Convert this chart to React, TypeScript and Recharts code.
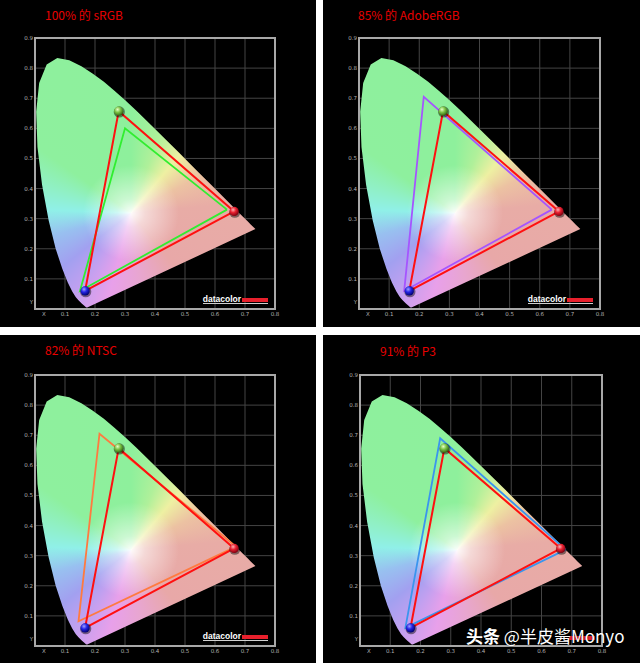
import React from 'react';
import { ScatterChart, Scatter, XAxis, YAxis, CartesianGrid, ReferenceArea } from 'recharts';

// CIE 1931 spectral locus (x, y)
const spectralLocus = [
  { x: 0.1741, y: 0.005 }, { x: 0.1738, y: 0.0049 }, { x: 0.1733, y: 0.0048 }, { x: 0.1726, y: 0.0048 },
  { x: 0.1714, y: 0.0051 }, { x: 0.1689, y: 0.0069 }, { x: 0.1644, y: 0.0109 }, { x: 0.1566, y: 0.0177 },
  { x: 0.144, y: 0.0297 }, { x: 0.1355, y: 0.0399 }, { x: 0.1241, y: 0.0578 }, { x: 0.1096, y: 0.0868 },
  { x: 0.0913, y: 0.1327 }, { x: 0.0687, y: 0.2007 }, { x: 0.0454, y: 0.295 }, { x: 0.0235, y: 0.4127 },
  { x: 0.0082, y: 0.5384 }, { x: 0.0039, y: 0.6548 }, { x: 0.0139, y: 0.7502 }, { x: 0.0389, y: 0.812 },
  { x: 0.0743, y: 0.8338 }, { x: 0.1142, y: 0.8262 }, { x: 0.1547, y: 0.8059 }, { x: 0.1929, y: 0.7816 },
  { x: 0.2296, y: 0.7543 }, { x: 0.2658, y: 0.7243 }, { x: 0.3016, y: 0.6923 }, { x: 0.3373, y: 0.6589 },
  { x: 0.3731, y: 0.6245 }, { x: 0.4087, y: 0.5896 }, { x: 0.4441, y: 0.5547 }, { x: 0.4788, y: 0.5202 },
  { x: 0.5125, y: 0.4866 }, { x: 0.5448, y: 0.4544 }, { x: 0.5752, y: 0.4242 }, { x: 0.6029, y: 0.3965 },
  { x: 0.627, y: 0.3725 }, { x: 0.6658, y: 0.334 }, { x: 0.6915, y: 0.3083 }, { x: 0.7079, y: 0.292 },
  { x: 0.719, y: 0.2809 }, { x: 0.7347, y: 0.2653 },
];

const glowCenter = [{ x: 0.32, y: 0.32 }];

// measured display primaries
const displayRed = [{ x: 0.664, y: 0.324 }];
const displayGreen = [{ x: 0.279, y: 0.657 }];
const displayBlue = [{ x: 0.167, y: 0.06 }];
const displayTriangle = [displayRed[0], displayGreen[0], displayBlue[0], displayRed[0]];

// reference gamuts
const srgbTriangle = [{ x: 0.64, y: 0.33 }, { x: 0.3, y: 0.6 }, { x: 0.15, y: 0.06 }, { x: 0.64, y: 0.33 }];
const adobeTriangle = [{ x: 0.64, y: 0.33 }, { x: 0.215, y: 0.705 }, { x: 0.15, y: 0.06 }, { x: 0.64, y: 0.33 }];
const ntscTriangle = [{ x: 0.67, y: 0.33 }, { x: 0.215, y: 0.705 }, { x: 0.145, y: 0.082 }, { x: 0.67, y: 0.33 }];
const p3Triangle = [{ x: 0.68, y: 0.32 }, { x: 0.265, y: 0.69 }, { x: 0.15, y: 0.06 }, { x: 0.68, y: 0.32 }];

const titles = ['100% 的 sRGB', '85% 的 AdobeRGB', '82% 的 NTSC', '91% 的 P3'];
const xTicks = [0, 0.1, 0.2, 0.3, 0.4, 0.5, 0.6, 0.7, 0.8];
const yTicks = [0, 0.1, 0.2, 0.3, 0.4, 0.5, 0.6, 0.7, 0.8, 0.9];

const panels = [
  { left: 0, top: 0, w: 316, h: 327, pl: 35, pt: 38, pr: 275, pb: 309, tx: 45, ty: 8, ref: srgbTriangle, refColor: '#30ee30', logoText: true },
  { left: 323, top: 0, w: 317, h: 327, pl: 36, pt: 38, pr: 277, pb: 309, tx: 35, ty: 8, ref: adobeTriangle, refColor: '#a555ff', logoText: true },
  { left: 0, top: 335, w: 316, h: 328, pl: 35, pt: 40, pr: 275, pb: 311, tx: 45, ty: 8, ref: ntscTriangle, refColor: '#ff7a40', logoText: true },
  { left: 323, top: 335, w: 317, h: 328, pl: 37, pt: 40, pr: 279, pb: 311, tx: 57, ty: 9, ref: p3Triangle, refColor: '#3a95ee', logoText: false },
];

const conic =
  'conic-gradient(from 0deg at 50% 50%, #8ef09c 0deg, #b0f09a 20deg, #eef0a2 40deg, #ecc2a2 62deg, #e8aca6 85deg, #e8a8a8 140deg, #e8a6d0 172deg, #e8a0ea 195deg, #c0a0f0 215deg, #a2a0f0 232deg, #98c0f0 254deg, #90f0e8 272deg, #90f0c4 288deg, #8ef09e 305deg, #8ef09c 360deg)';
const glow = 'radial-gradient(circle at 50% 50%, rgba(255,255,255,0.95) 0px, rgba(255,255,255,0.55) 14px, rgba(255,255,255,0) 48px)';

const tickFont = '"DejaVu Sans", sans-serif';
const AXIS_H = 16;
const AXIS_W = 30;

const XTick = (props: any) => {
  const { x, y, payload } = props;
  const v = payload.value;
  return (
    <text x={v === 0 ? x + 9 : x} y={y + 7} textAnchor="middle" fontSize={5.5} fill="#b0b0b0" fontFamily={tickFont}>
      {v === 0 ? 'X' : v.toFixed(1)}
    </text>
  );
};
const YTick = (props: any) => {
  const { x, y, payload } = props;
  const v = payload.value;
  return (
    <text x={x - 2} y={v === 0 ? y - 5 : y + 2} textAnchor="end" fontSize={5.5} fill="#b0b0b0" fontFamily={tickFont}>
      {v === 0 ? 'Y' : v.toFixed(1)}
    </text>
  );
};

const sphere = (id: string, light: string, base: string, dark: string) => (props: any) => {
  const { cx, cy } = props;
  return (
    <g>
      <defs>
        <radialGradient id={id} cx="38%" cy="32%" r="70%">
          <stop offset="0%" stopColor={light} />
          <stop offset="45%" stopColor={base} />
          <stop offset="100%" stopColor={dark} />
        </radialGradient>
      </defs>
      <circle cx={cx + 0.6} cy={cy + 0.8} r={5.6} fill="#000" opacity={0.45} />
      <circle cx={cx} cy={cy} r={4.6} fill={`url(#${id})`} />
    </g>
  );
};

const Empty = () => <g />;

function Panel({ p, i }: { p: any; i: number }) {
  const clipId = `locus-clip-${i}`;
  const locusLine = (lp: any) => {
    const pts = lp.points || [];
    const d = pts.map((q: any, k: number) => `${k ? 'L' : 'M'}${q.x},${q.y}`).join('') + 'Z';
    return (
      <defs>
        <clipPath id={clipId}>
          <path d={d} />
        </clipPath>
      </defs>
    );
  };
  const fillShape = (sp: any) => {
    const { cx, cy } = sp;
    return (
      <g clipPath={`url(#${clipId})`}>
        <foreignObject x={cx - 320} y={cy - 320} width={640} height={640}>
          <div style={{ width: 640, height: 640, background: `${glow}, ${conic}` }} />
        </foreignObject>
      </g>
    );
  };
  const logoRight = p.w - p.pr + 7;
  const logoBottom = p.h - p.pb + 5;
  return (
    <div style={{ position: 'absolute', left: p.left, top: p.top, width: p.w, height: p.h, background: '#000' }}>
      <ScatterChart
        width={p.w}
        height={p.h}
        margin={{ top: p.pt, left: p.pl - AXIS_W, right: p.w - p.pr, bottom: p.h - p.pb - AXIS_H }}
      >
        <CartesianGrid stroke="#444" strokeWidth={1} />
        <XAxis
          type="number"
          dataKey="x"
          domain={[0, 0.8]}
          ticks={xTicks}
          allowDataOverflow
          height={AXIS_H}
          axisLine={false}
          tickLine={false}
          tickSize={0}
          tickMargin={0}
          tick={XTick}
          interval={0}
        />
        <YAxis
          type="number"
          dataKey="y"
          domain={[0, 0.9]}
          ticks={yTicks}
          allowDataOverflow
          width={AXIS_W}
          axisLine={false}
          tickLine={false}
          tickSize={0}
          tickMargin={0}
          tick={YTick}
          interval={0}
        />
        <ReferenceArea x1={0} x2={0.8} y1={0} y2={0.9} fill="none" stroke="#a8a8a8" strokeWidth={2} />
        <Scatter data={spectralLocus} shape={Empty} line={locusLine} lineType="joint" isAnimationActive={false} />
        <Scatter data={glowCenter} shape={fillShape} isAnimationActive={false} />
        <Scatter
          data={p.ref}
          shape={Empty}
          line={{ stroke: p.refColor, strokeWidth: 1.8, fill: 'none' }}
          lineType="joint"
          isAnimationActive={false}
        />
        <Scatter
          data={displayTriangle}
          shape={Empty}
          line={{ stroke: '#ff1010', strokeWidth: 2, fill: 'none' }}
          lineType="joint"
          isAnimationActive={false}
        />
        <Scatter data={displayGreen} shape={sphere(`sg${i}`, '#e6ffc8', '#7cc446', '#2e6010')} isAnimationActive={false} />
        <Scatter data={displayRed} shape={sphere(`sr${i}`, '#ffb0b0', '#e82030', '#7a0010')} isAnimationActive={false} />
        <Scatter data={displayBlue} shape={sphere(`sb${i}`, '#a0a0ff', '#2424e6', '#00006a')} isAnimationActive={false} />
      </ScatterChart>
      <div
        style={{
          position: 'absolute',
          left: p.tx,
          top: p.ty,
          fontFamily: '"Noto Sans CJK SC", sans-serif',
          fontSize: 12,
          lineHeight: '14px',
          color: '#e80000',
          whiteSpace: 'nowrap',
        }}
      >
        {titles[i]}
      </div>
      <div
        style={{
          position: 'absolute',
          right: logoRight,
          bottom: logoBottom,
          display: 'flex',
          alignItems: 'flex-end',
          borderBottom: p.logoText ? '1px solid #d0d0d0' : 'none',
        }}
      >
        {p.logoText ? (
          <span
            style={{
              fontFamily: '"Liberation Sans", sans-serif',
              fontWeight: 700,
              fontSize: 8.5,
              lineHeight: '8px',
              color: '#fff',
            }}
          >
            datacolor
          </span>
        ) : null}
        <span style={{ display: 'inline-block', width: 26, height: 4, background: '#e8202c', marginBottom: 1, marginLeft: 1 }} />
      </div>
    </div>
  );
}

export default function App() {
  return (
    <div style={{ position: 'absolute', left: 0, top: 0, width: 640, height: 663, background: '#fff', overflow: 'hidden' }}>
      {panels.map((p, i) => (
        <Panel key={i} p={p} i={i} />
      ))}
      <div
        style={{
          position: 'absolute',
          left: 466,
          top: 628,
          fontFamily: '"Noto Sans CJK SC", sans-serif',
          fontSize: 17,
          lineHeight: '15px',
          color: '#fff',
          whiteSpace: 'nowrap',
          textShadow: '0 0 2px rgba(0,0,0,0.7)',
        }}
      >
        <span style={{ fontWeight: 700 }}>头条</span> @半皮酱Monyo
      </div>
    </div>
  );
}
